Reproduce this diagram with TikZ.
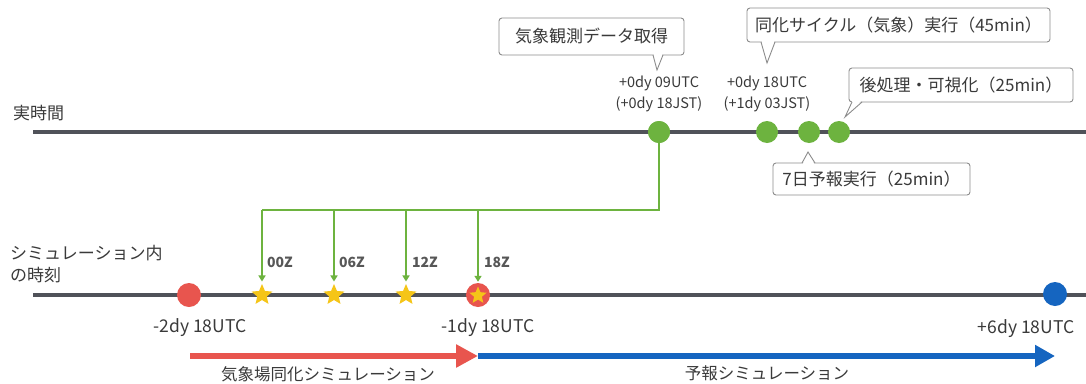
\documentclass[tikz,border=0pt]{standalone}
\usepackage{fontspec}
\setmainfont{Noto Sans CJK JP}
\usetikzlibrary{shapes.geometric,arrows.meta}
\definecolor{lineg}{HTML}{505259}
\definecolor{gr}{HTML}{6DB33F}
\definecolor{rd}{HTML}{E8554E}
\definecolor{bl}{HTML}{1565C0}
\definecolor{yl}{HTML}{F5C518}
\definecolor{txt}{HTML}{3A3A3A}
\definecolor{bord}{HTML}{8C8C8C}
\tikzset{
  timeline/.style={line width=3.5pt, draw=lineg},
  dot/.style={circle, inner sep=0pt, minimum size=22pt},
  gdot/.style={dot, fill=gr},
  staryl/.style={star, star points=5, star point ratio=2.2, fill=yl, inner sep=0pt, minimum size=22pt},
  callout/.style={draw=bord, line width=0.9pt, rounded corners=3pt, fill=white, inner sep=0pt, font=\fontsize{17}{20}\selectfont, text=txt},
  pointer/.style={draw=bord, line width=0.9pt},
  lbl/.style={text=txt, font=\fontsize{17}{20}\selectfont, inner sep=0pt},
  small/.style={text=txt, font=\fontsize{14.5}{17}\selectfont, inner sep=0pt, align=center},
  mid/.style={text=txt, font=\fontsize{16.5}{20}\selectfont, inner sep=0pt},
  datelbl/.style={text=txt, font=\fontsize{17.5}{20}\selectfont, inner sep=0pt},
  zlbl/.style={text=txt!85, font=\bfseries\fontsize{14}{17}\selectfont, inner sep=0pt},
  gline/.style={draw=gr, line width=1.5pt},
  garrow/.style={gline, -{Triangle[length=6pt,width=7pt]}},
}
\begin{document}
\begin{tikzpicture}[x=1pt,y=-1pt]
\useasboundingbox[fill=white] (0,0) rectangle (1086,383);

% left labels
\node[lbl, anchor=west] (lreal) at (13,113) {実時間};
\node[lbl, anchor=west] (lsim1) at (10,253) {シミュレーション内};
\node[lbl, anchor=west] (lsim2) at (10,275) {の時刻};

% timelines
\coordinate (tA) at (33,132); \coordinate (tB) at (1086,132);
\coordinate (sA) at (33,295); \coordinate (sB) at (1086,295);
\draw[timeline] (tA) -- (tB);
\draw[timeline] (sA) -- (sB);

% real-time dots
\node[gdot] (g1) at (659,132) {};
\node[gdot] (g2) at (767,132) {};
\node[gdot] (g3) at (809,132) {};
\node[gdot] (g4) at (839,132) {};

% time labels (top)
\node[small] (t1a) at (659,83) {+0dy 09UTC};
\node[small] (t1b) at (659,104) {(+0dy 18JST)};
\node[small] (t2a) at (767,83) {+0dy 18UTC};
\node[small] (t2b) at (767,104) {(+1dy 03JST)};

% callouts
\node[callout, minimum width=185pt, minimum height=37pt] (c1) at (591.5,36.5) {気象観測データ取得};
\fill[white] (653.5,53.5) -- (657,70) -- (662.5,53.5) -- cycle;
\coordinate (p1) at (657,70);
\draw[pointer] (653,55) -- (p1) -- (663,55);

\node[callout, minimum width=303pt, minimum height=34pt] (c2) at (898.5,25) {同化サイクル（気象）実行（45min）};
\fill[white] (761.5,40.5) -- (767,63) -- (774.5,40.5) -- cycle;
\coordinate (p2) at (767,63);
\draw[pointer] (761,42) -- (p2) -- (775,42);

\node[callout, minimum width=224pt, minimum height=34pt] (c3) at (961,85) {後処理・可視化（25min）};
\fill[white] (852.5,100.5) -- (845,117) -- (861.5,100.5) -- cycle;
\coordinate (p3) at (845,117);
\draw[pointer] (852,102) -- (p3) -- (862,102);

\node[callout, minimum width=197pt, minimum height=32pt] (c4) at (871.5,179) {7日予報実行（25min）};
\fill[white] (802.5,164.5) -- (808,152) -- (814.5,164.5) -- cycle;
\coordinate (p4) at (808,152);
\draw[pointer] (802,163) -- (p4) -- (815,163);

% simulation-time markers
\node[dot, fill=rd, minimum size=24pt] (r1) at (189,295) {};
\node[staryl] (s1) at (262,295) {};
\node[staryl] (s2) at (334,295) {};
\node[staryl] (s3) at (406,295) {};
\node[dot, fill=rd, minimum size=24pt] (r2) at (478,295) {};
\node[staryl, minimum size=18pt] (s4) at (478,295.5) {};
\node[dot, fill=bl, minimum size=24pt] (b1) at (1055,294) {};

% green connectors
\coordinate (hR) at (659,210);
\coordinate (hL) at (262,210);
\draw[gline] (g1.center) -- (hR) -- (hL);
\draw[garrow] (s1 |- hL) -- ([yshift=2pt]s1.north);
\draw[garrow] (s2 |- hL) -- ([yshift=2pt]s2.north);
\draw[garrow] (s3 |- hL) -- ([yshift=2pt]s3.north);
\draw[garrow] (r2 |- hL) -- ([yshift=1pt]r2.north);
\node[gdot] (g1b) at (659,132) {};

\node[zlbl] (z1) at (280,262) {00Z};
\node[zlbl] (z2) at (352,262) {06Z};
\node[zlbl] (z3) at (425,262) {12Z};
\node[zlbl] (z4) at (497,262) {18Z};

% sim time labels
\node[datelbl] (d1) at (200,328) {-2dy 18UTC};
\node[datelbl] (d2) at (488,328) {-1dy 18UTC};
\node[datelbl] (d3) at (1026,329) {+6dy 18UTC};

% simulation arrows
\coordinate (ra) at (190,356);
\coordinate (rb) at (478,356);
\coordinate (bb) at (1055,356);
\draw[bl, line width=6pt, -{Triangle[length=20pt,width=21pt]}] (rb) -- (bb);
\draw[rd, line width=6pt, -{Triangle[length=22pt,width=22pt]}] (ra) -- (rb);

\node[mid] (a1) at (328,374) {気象場同化シミュレーション};
\node[mid] (a2) at (767,373) {予報シミュレーション};
\end{tikzpicture}
\end{document}
